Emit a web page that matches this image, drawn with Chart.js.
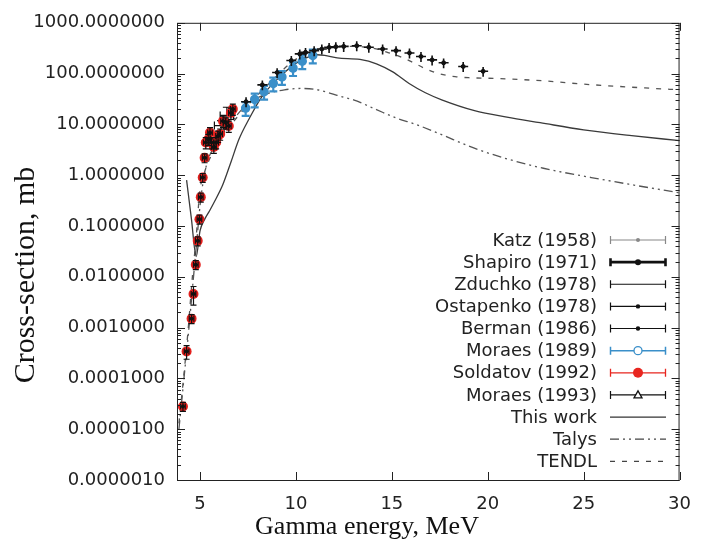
<!DOCTYPE html>
<html>
<head>
<meta charset="utf-8">
<script src="https://cdn.jsdelivr.net/npm/chart.js@4.4.1/dist/chart.umd.min.js"></script>
<style>
  body { margin: 0; background: #fff; }
  canvas { display: block; }
</style>
</head>
<body>
<canvas id="xsChart" width="705" height="553"></canvas>
<script>
// Photonuclear cross-section vs gamma energy
const xTicks = [5, 10, 15, 20, 25, 30];
const yTicks = [1e-6, 1e-5, 1e-4, 1e-3, 1e-2, 1e-1, 1, 10, 100, 1000];

const thisWorkE = [4.30, 4.55, 4.80, 5.0, 5.24, 5.5, 5.75, 6.18, 6.61, 7.03, 7.54, 8.22, 9.25, 10.1, 10.7, 11.1, 11.5, 12.15, 13.34, 14.2, 15.05, 15.9, 16.75, 17.6, 19.31, 21.0, 22.73, 25, 27.5, 30];
const thisWorkXS = [0.8, 0.14, 0.025, 0.08, 0.135, 0.2, 0.30, 0.64, 1.8, 5.1, 12.5, 35, 93, 168, 215, 235, 228, 204, 190, 156, 108, 64, 42, 30.5, 18.7, 13.9, 10.8, 7.8, 6.0, 4.8];

const talysE = [3.9, 4.15, 4.4, 4.65, 4.85, 5.0, 5.2, 5.45, 5.8, 6.2, 6.7, 7.2, 7.8, 8.5, 9.4, 10.3, 11.0, 11.8, 12.5, 13.0, 14.2, 15.2, 16.25, 17.5, 19.3, 21, 22.9, 25.4, 27.5, 30];
const talysXS = [1e-5, 9e-5, 8e-4, 0.009, 0.06, 0.25, 0.9, 2.2, 3.8, 7, 12, 20, 30, 40, 48, 51, 49, 41, 34, 30.5, 19.5, 13.5, 10, 6.5, 3.4, 2.1, 1.37, 0.9, 0.65, 0.45];

const tendlE = [3.9, 4.14, 4.36, 4.61, 4.8, 4.98, 5.24, 5.67, 6.2, 6.8, 7.4, 8.2, 9.0, 9.8, 10.5, 11.2, 12.0, 12.8, 13.5, 14.3, 14.8, 15.3, 16.07, 16.75, 17.44, 18.3, 19.0, 20.5, 22.9, 25, 27.5, 30];
const tendlXS = [1.3e-5, 1e-4, 7.4e-4, 0.0108, 0.06, 0.45, 1.16, 2.8, 6, 12, 22, 45, 90, 170, 240, 300, 335, 345, 335, 300, 260, 226, 168, 125, 100, 87, 83, 80, 72, 62, 54, 48];

const soldatovE = [4.11, 4.30, 4.56, 4.66, 4.78, 4.88, 4.97, 5.04, 5.14, 5.24, 5.30, 5.43, 5.52, 5.60, 5.72, 5.84, 5.94, 6.05, 6.20, 6.35, 6.50, 6.61, 6.71];
const soldatovXS = [2.8e-5, 3.4e-4, 1.5e-3, 4.6e-3, 0.0173, 0.051, 0.136, 0.37, 0.9, 2.2, 4.4, 5.1, 6.9, 4.4, 3.6, 4.4, 5.9, 6.5, 11.6, 10.8, 9.3, 16.8, 20];
const soldatovErr = [0.2, 0.3, 0.2, 0.4, 0.2, 0.2, 0.2, 0.2, 0.2, 0.2, 0.25, 0.25, 0.25, 0.25, 0.25, 0.25, 0.25, 0.25, 0.25, 0.25, 0.25, 0.25, 0.25];

const ostapenkoE = [4.11, 4.30, 4.56, 4.66, 4.78, 4.88, 4.97, 5.04, 5.14, 5.24, 5.30, 5.43, 5.52, 5.60, 5.72, 5.84, 5.94, 6.05, 6.20, 6.35, 6.50, 6.61, 6.71];
const ostapenkoXS = [2.8e-5, 3.4e-4, 1.5e-3, 4.6e-3, 0.0173, 0.051, 0.136, 0.37, 0.9, 2.2, 4.4, 5.1, 6.9, 4.4, 3.6, 4.4, 5.9, 6.5, 11.6, 10.8, 9.3, 16.8, 20];

const bermanE = [7.40, 8.25, 9.02, 9.76, 10.20, 10.50, 10.95, 11.35, 11.73, 12.08, 12.49, 13.17, 13.80, 14.52, 15.22, 15.92, 16.52, 17.10, 17.70, 18.72, 19.76];
const bermanXS = [28, 60, 105, 181, 244, 262, 283, 305, 328, 338, 343, 354, 330, 305, 283, 255, 217, 186, 163, 138, 111];

const moraes89E = [7.38, 7.85, 8.34, 8.82, 9.27, 9.85, 10.33, 10.88];
const moraes89XS = [21, 31, 44, 64, 86, 128, 175, 228];

const zduchkoE = [6.1, 6.4];
const zduchkoXS = [9.5, 15];
const zduchkoErr = [0.25, 0.45];

const toPts = (xs, ys) => xs.map((x, i) => ({ x: x, y: ys[i] }));

// error bars, drawn right after their own dataset
const errorBars = {
  id: 'errorBars',
  afterDatasetDraw(chart, args) {
    const ds = chart.data.datasets[args.index];
    if (ds.errFrac === undefined) return;
    const ctx = chart.ctx, xs = chart.scales.x, ys = chart.scales.y, a = chart.chartArea;
    ctx.save();
    ctx.beginPath();
    ctx.rect(a.left, a.top, a.right - a.left, a.bottom - a.top);
    ctx.clip();
    ctx.strokeStyle = ds.errColor;
    ctx.lineWidth = ds.errWidth || 1.2;
    ds.data.forEach((p, i) => {
      const f = Array.isArray(ds.errFrac) ? ds.errFrac[i] : ds.errFrac;
      const px = xs.getPixelForValue(p.x);
      const py = ys.getPixelForValue(p.y);
      const top = ys.getPixelForValue(p.y * (1 + f));
      const bot = ys.getPixelForValue(p.y * (1 - f));
      const c = ds.cap || 0;
      ctx.beginPath();
      ctx.moveTo(px, top); ctx.lineTo(px, bot);
      if (c) {
        ctx.moveTo(px - c, top); ctx.lineTo(px + c, top);
        ctx.moveTo(px - c, bot); ctx.lineTo(px + c, bot);
      }
      if (ds.xErr) {
        const l = xs.getPixelForValue(p.x - ds.xErr), r = xs.getPixelForValue(p.x + ds.xErr);
        ctx.moveTo(l, py); ctx.lineTo(r, py);
        if (c) {
          ctx.moveTo(l, py - c); ctx.lineTo(l, py + c);
          ctx.moveTo(r, py - c); ctx.lineTo(r, py + c);
        }
      }
      ctx.stroke();
    });
    ctx.restore();
  }
};

// frame, inward ticks, axis titles, legend
const decor = {
  id: 'decor',
  afterDraw(chart) {
    const ctx = chart.ctx, xs = chart.scales.x, ys = chart.scales.y, a = chart.chartArea;
    ctx.save();
    ctx.strokeStyle = '#222';
    ctx.lineWidth = 1;
    ctx.strokeRect(a.left + 0.5, a.top + 0.5, a.right - a.left - 1, a.bottom - a.top);
    ctx.beginPath();
    xTicks.forEach(v => {
      const x = Math.round(xs.getPixelForValue(v)) + 0.5;
      ctx.moveTo(x, a.bottom); ctx.lineTo(x, a.bottom - 8);
      ctx.moveTo(x, a.top); ctx.lineTo(x, a.top + 8);
    });
    yTicks.forEach(v => {
      const y = Math.round(ys.getPixelForValue(v)) + 0.5;
      ctx.moveTo(a.left, y); ctx.lineTo(a.left + 8, y);
      ctx.moveTo(a.right, y); ctx.lineTo(a.right - 8, y);
      if (v < 1000) {
        for (let k = 2; k <= 9; k++) {
          const ym = Math.round(ys.getPixelForValue(v * k)) + 0.5;
          ctx.moveTo(a.left, ym); ctx.lineTo(a.left + 4, ym);
          ctx.moveTo(a.right, ym); ctx.lineTo(a.right - 4, ym);
        }
      }
    });
    ctx.stroke();

    // axis titles
    ctx.fillStyle = '#111';
    ctx.textAlign = 'center';
    ctx.textBaseline = 'alphabetic';
    ctx.font = '26px "Liberation Serif"';
    ctx.fillText('Gamma energy, MeV', 367, 534);
    ctx.save();
    ctx.translate(34, 275);
    ctx.rotate(-Math.PI / 2);
    ctx.font = '30px "Liberation Serif"';
    ctx.fillText('Cross-section, mb', 0, 0);
    ctx.restore();

    // legend
    const rows = [
      { t: 'Katz (1958)', c: '#888', w: 1.2, m: 'dot', r: 2, bar: true },
      { t: 'Shapiro (1971)', c: '#111', w: 2.6, m: 'dot', r: 3, bar: true },
      { t: 'Zduchko (1978)', c: '#111', w: 1.2, m: null, bar: true },
      { t: 'Ostapenko (1978)', c: '#111', w: 1.2, m: 'dot', r: 2.2, bar: true },
      { t: 'Berman (1986)', c: '#111', w: 1.2, m: 'dot', r: 2.2, bar: true },
      { t: 'Moraes (1989)', c: '#3a8fc9', w: 1.5, m: 'open', r: 4, bar: true },
      { t: 'Soldatov (1992)', c: '#e8261f', w: 1.3, m: 'fill', r: 5, bar: true },
      { t: 'Moraes (1993)', c: '#111', w: 1.2, m: 'tri', r: 4, bar: true },
      { t: 'This work', c: '#333', w: 1.3, dash: [] },
      { t: 'Talys', c: '#444', w: 1.3, dash: [9, 4, 2, 4, 2, 4] },
      { t: 'TENDL', c: '#444', w: 1.3, dash: [5, 7] }
    ];
    ctx.font = '18px "DejaVu Sans"';
    ctx.textAlign = 'right';
    ctx.textBaseline = 'middle';
    rows.forEach((r, i) => {
      const y = 240 + i * 22.13;
      ctx.fillStyle = '#222';
      ctx.fillText(r.t, 597, y + 1);
      ctx.strokeStyle = r.c;
      ctx.fillStyle = r.c;
      ctx.lineWidth = r.w;
      ctx.setLineDash(r.dash || []);
      ctx.beginPath();
      ctx.moveTo(610, y); ctx.lineTo(666, y);
      if (r.bar) {
        ctx.moveTo(610.5, y - 4); ctx.lineTo(610.5, y + 4);
        ctx.moveTo(665.5, y - 4); ctx.lineTo(665.5, y + 4);
      }
      ctx.stroke();
      ctx.setLineDash([]);
      ctx.lineWidth = 1.3;
      if (r.m === 'dot' || r.m === 'fill') {
        ctx.beginPath(); ctx.arc(638, y, r.r, 0, Math.PI * 2); ctx.fill();
      } else if (r.m === 'open') {
        ctx.beginPath(); ctx.arc(638, y, r.r, 0, Math.PI * 2);
        ctx.fillStyle = '#fff'; ctx.fill(); ctx.stroke();
      } else if (r.m === 'tri') {
        ctx.beginPath();
        ctx.moveTo(638, y - 4); ctx.lineTo(642, y + 3); ctx.lineTo(634, y + 3); ctx.closePath();
        ctx.fillStyle = '#fff'; ctx.fill(); ctx.stroke();
      }
    });
    ctx.restore();
  }
};

const lineStyle = (color, dash) => ({
  showLine: true, pointRadius: 0, borderColor: color, borderWidth: 1.3,
  borderDash: dash, cubicInterpolationMode: 'monotone', fill: false
});

new Chart(document.getElementById('xsChart'), {
  type: 'scatter',
  data: {
    datasets: [
      Object.assign({ label: 'This work', data: toPts(thisWorkE, thisWorkXS), order: 10 }, lineStyle('#3a3a3a', [])),
      Object.assign({ label: 'Talys', data: toPts(talysE, talysXS), order: 11 }, lineStyle('#555', [9, 4, 2, 4, 2, 4])),
      Object.assign({ label: 'TENDL', data: toPts(tendlE, tendlXS), order: 12 }, lineStyle('#555', [5, 7])),
      {
        label: 'Zduchko (1978)', data: toPts(zduchkoE, zduchkoXS), order: 9,
        pointRadius: 0, errFrac: zduchkoErr, xErr: 0.35, cap: 4, errColor: '#111', errWidth: 1.2
      },
      {
        label: 'Moraes (1989)', data: toPts(moraes89E, moraes89XS), order: 8,
        pointRadius: 4, pointStyle: 'circle', borderColor: '#3a8fc9', backgroundColor: '#3a8fc9',
        pointBorderWidth: 1.5, errFrac: 0.3, cap: 4, errColor: '#3a8fc9', errWidth: 2.2
      },
      {
        label: 'Soldatov (1992)', data: toPts(soldatovE, soldatovXS), order: 7,
        pointRadius: 5, borderColor: '#e41f1c', backgroundColor: '#e41f1c', pointBorderWidth: 0
      },
      {
        label: 'Ostapenko (1978)', data: toPts(ostapenkoE, ostapenkoXS), order: 6,
        pointRadius: 1.6, borderColor: '#111', backgroundColor: '#111',
        errFrac: soldatovErr, xErr: 0.12, cap: 3, errColor: '#111', errWidth: 1.2
      },
      {
        label: 'Berman (1986)', data: toPts(bermanE, bermanXS), order: 5,
        pointRadius: 2, borderColor: '#111', backgroundColor: '#111',
        errFrac: 0.22, xErr: 0.26, cap: 0, errColor: '#111', errWidth: 1.6
      }
    ]
  },
  options: {
    responsive: false,
    animation: false,
    devicePixelRatio: 1,
    layout: { padding: { top: 15, right: 16, left: 0, bottom: 0 } },
    plugins: { legend: { display: false }, tooltip: { enabled: false } },
    scales: {
      x: {
        type: 'linear', min: 3.8, max: 30,
        grid: { display: false, drawTicks: false },
        border: { display: false },
        afterBuildTicks: s => { s.ticks = xTicks.map(v => ({ value: v })); },
        afterFit: s => { s.height = 73; },
        ticks: { padding: 14, color: '#222', font: { family: 'DejaVu Sans', size: 18 }, maxRotation: 0 }
      },
      y: {
        type: 'logarithmic', min: 1e-6, max: 1000,
        grid: { display: false, drawTicks: false },
        border: { display: false },
        afterBuildTicks: s => { s.ticks = yTicks.map(v => ({ value: v })); },
        afterFit: s => { s.width = 177; },
        ticks: {
          padding: 12, color: '#222', font: { family: 'DejaVu Sans', size: 18 },
          callback: v => Number(v).toFixed(7)
        }
      }
    }
  },
  plugins: [errorBars, decor]
});
</script>
</body>
</html>
